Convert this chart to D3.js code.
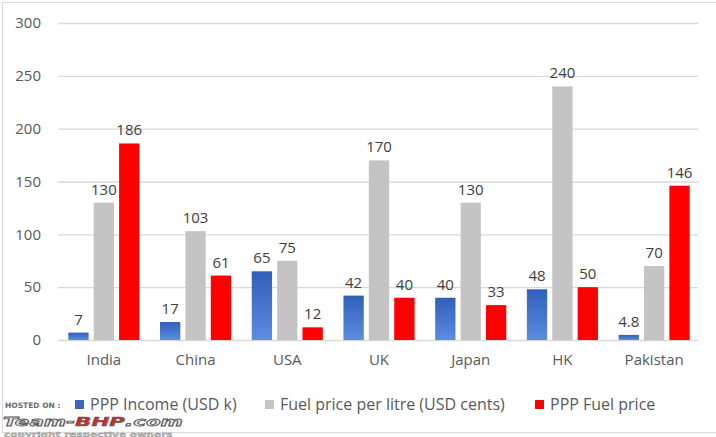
<!DOCTYPE html>
<html><head><meta charset="utf-8">
<script src="https://cdn.jsdelivr.net/npm/d3@7/dist/d3.min.js"></script>
<style>body{margin:0;background:#fff}svg{display:block}text{font-family:"Open Sans",sans-serif}</style>
</head><body><svg id="c" width="716" height="437"></svg>
<script>
const categories = ["India","China","USA","UK","Japan","HK","Pakistan"];
const seriesNames = ["PPP Income (USD k)","Fuel price per litre (USD cents)","PPP Fuel price"];
const income = [7,17,65,42,40,48,4.8];
const fuelPrice = [130,103,75,170,130,240,70];
const pppFuel = [186,61,12,40,33,50,146];
const yTicks = [0,50,100,150,200,250,300];

const series = [income, fuelPrice, pppFuel];
const colors = ["url(#blueGrad)","#c4c4c4","#ff0000"];
const legendColors = ["#3a66c0","#c4c4c4","#ff0000"];

const svg = d3.select("#c");
const defs = svg.append("defs");
const g1 = defs.append("linearGradient").attr("id","blueGrad").attr("x1",0).attr("y1",0).attr("x2",0).attr("y2",1);
g1.append("stop").attr("offset","0%").attr("stop-color","#2f5fb8");
g1.append("stop").attr("offset","100%").attr("stop-color","#5d8de0");

// outer chart border
svg.append("rect").attr("x",2.5).attr("y",2.5).attr("width",740).attr("height",430).attr("fill","none").attr("stroke","#d9d9d9");

const x0 = d3.scaleBand().domain(categories).range([58,700]).paddingInner(0.225).paddingOuter(0.1125);
const x1 = d3.scaleBand().domain(d3.range(3)).range([0,x0.bandwidth()]).paddingInner(0.2);
const y = d3.scaleLinear().domain([0,300]).range([340,23]);

// gridlines
svg.append("g").selectAll("line").data(yTicks).join("line")
  .attr("x1",58).attr("x2",698).attr("y1",d=>y(d)+0.5).attr("y2",d=>y(d)+0.5)
  .attr("stroke","#d9d9d9").attr("stroke-width",1.3);

// y axis labels
const yAxis = d3.axisLeft(y).tickValues(yTicks).tickSize(0).tickPadding(0);
const ya = svg.append("g").attr("transform","translate(41,0)").call(yAxis);
ya.select(".domain").remove();
ya.selectAll("text").attr("fill","#595959").style("font-size","15px").style("font-family","Open Sans");

// x axis labels
const xAxis = d3.axisBottom(x0).tickSize(0).tickPadding(0);
const xa = svg.append("g").attr("transform","translate(0,354)").call(xAxis);
xa.select(".domain").remove();
xa.selectAll("text").attr("fill","#595959").style("font-size","15px").style("font-family","Open Sans");

// bars
const groups = svg.append("g").selectAll("g").data(categories).join("g")
  .attr("transform",d=>`translate(${x0(d)},0)`);
groups.each(function(cat,ci){
  const g = d3.select(this);
  series.forEach((s,si)=>{
    const v = s[ci];
    g.append("rect").attr("x",x1(si)).attr("width",x1.bandwidth())
      .attr("y",y(v)).attr("height",y(0)-y(v)).attr("fill",colors[si]);
    g.append("text").attr("x",x1(si)+x1.bandwidth()/2).attr("y",y(v)-8)
      .attr("text-anchor","middle").attr("fill","#404040").style("font-size","15px")
      .text(v);
  });
});

// legend
const legendX = [75,265,535];
const lg = svg.append("g");
seriesNames.forEach((n,i)=>{
  lg.append("rect").attr("x",legendX[i]).attr("y",400).attr("width",9).attr("height",9).attr("fill",legendColors[i]);
  lg.append("text").attr("x",legendX[i]+15).attr("y",410).attr("fill","#595959").style("font-size","16px").text(n);
});

// watermark
const wm = svg.append("g");
wm.append("text").attr("x",5).attr("y",408).attr("fill","#6b6b6b").style("font-size","7.5px").style("font-weight","bold").style("font-family","DejaVu Sans").text("HOSTED ON :");
const t = wm.append("text").attr("transform","translate(3,426) scale(1.65,1)").style("font-size","13px").style("font-weight","bold").style("font-style","italic").style("font-family","DejaVu Sans");
t.append("tspan").attr("fill","#e6e6e6").attr("stroke","#555").attr("stroke-width",0.8).text("Team-");
t.append("tspan").attr("fill","#d42a2a").attr("stroke","#555").attr("stroke-width",0.5).text("BHP");
t.append("tspan").attr("fill","#e6e6e6").attr("stroke","#555").attr("stroke-width",0.8).text(".com");
wm.append("text").attr("transform","translate(4,436.5) scale(1.4,1)").attr("fill","#bdbdbd").attr("stroke","#888").attr("stroke-width",0.3).style("font-size","7.5px").style("font-weight","bold").style("font-family","DejaVu Sans").text("copyright respective owners");
</script></body></html>
